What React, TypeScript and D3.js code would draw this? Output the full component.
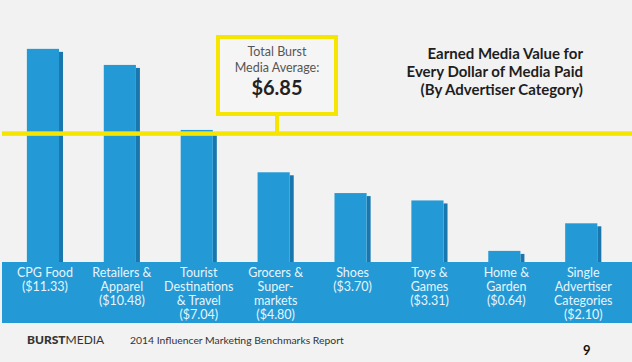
import React from "react";
import * as d3 from "d3";

const categories = ["CPG Food", "Retailers & Apparel", "Tourist Destinations & Travel", "Grocers & Supermarkets", "Shoes", "Toys & Games", "Home & Garden", "Single Advertiser Categories"];
const values = [11.33, 10.48, 7.04, 4.8, 3.7, 3.31, 0.64, 2.1];
const labelLines = [
  ["CPG Food", "($11.33)"],
  ["Retailers &", "Apparel", "($10.48)"],
  ["Tourist", "Destinations", "& Travel", "($7.04)"],
  ["Grocers &", "Super-", "markets", "($4.80)"],
  ["Shoes", "($3.70)"],
  ["Toys &", "Games", "($3.31)"],
  ["Home &", "Garden", "($0.64)"],
  ["Single", "Advertiser", "Categories", "($2.10)"],
];
const average = 6.85;
const titleLines = ["Earned Media Value for", "Every Dollar of Media Paid", "(By Advertiser Category)"];
const calloutLines = ["Total Burst", "Media Average:"];
const calloutValue = "$6.85";
const footerBrandBold = "BURST";
const footerBrandLight = "MEDIA";
const footerText = "2014 Influencer Marketing Benchmarks Report";
const pageNumber = "9";

const W = 632, H = 362;
const BLUE = "#239ad6";
const SHADOW = "#1a77ad";
const YELLOW = "#f6e500";
const BG = "#f2f2f2";
const FONT = "Lato, 'Open Sans', sans-serif";

export default function App() {
  const baseline = 263;
  const y = d3.scaleLinear().domain([0, 12]).range([baseline, baseline - 12 * 18.9]);
  const x = d3.scaleBand<string>().domain(categories).range([6.5, 621.7]).paddingInner(0.53).paddingOuter(0.265);
  const bw = x.bandwidth();
  const avgY = y(average);
  const boxX = 218, boxY = 37, boxW = 118, boxH = 77;
  const stemX = boxX + boxW / 2;

  return (
    <div style={{ position: "fixed", left: 0, top: 0 }}>
      <svg width={W} height={H} style={{ display: "block" }} fontFamily={FONT}>
        <rect x={0} y={0} width={W} height={H} fill={BG} />
        {categories.map((c, i) => {
          const x0 = x(c)!;
          const top = y(values[i]);
          return (
            <g key={c}>
              <rect x={x0 + bw - 4} y={top + 3} width={4} height={baseline - top - 3} fill={SHADOW} />
              <rect x={x0} y={top} width={bw - 4} height={baseline - top} fill={BLUE} />
            </g>
          );
        })}
        <rect x={2} y={262} width={W - 2} height={61} fill={BLUE} />
        {categories.map((c, i) => (
          <text key={c} x={x(c)! + bw / 2} textAnchor="middle" fill="#e8f4fb" fontSize={12.5}>
            {labelLines[i].map((l, j) => (
              <tspan key={j} x={x(c)! + bw / 2} y={277 + j * 14}>{l}</tspan>
            ))}
          </text>
        ))}
        <rect x={2} y={avgY - 2.2} width={W - 2} height={4.5} fill={YELLOW} />
        <rect x={stemX - 2} y={boxY + boxH} width={4} height={avgY - boxY - boxH} fill={YELLOW} />
        <rect x={boxX} y={boxY} width={boxW} height={boxH} fill="#f5f5f5" stroke={YELLOW} strokeWidth={4} />
        {calloutLines.map((l, j) => (
          <text key={j} x={stemX} y={56 + j * 15.5} textAnchor="middle" fill="#555" fontSize={12.5}>{l}</text>
        ))}
        <text x={stemX} y={95} textAnchor="middle" fill="#222" fontSize={20} fontWeight="bold">{calloutValue}</text>
        {titleLines.map((l, j) => (
          <text key={j} x={583} y={59 + j * 18} textAnchor="end" fill="#1e1e1e" fontSize={15} fontWeight="bold">{l}</text>
        ))}
        <text x={27} y={344} fill="#333" fontSize={12}>
          <tspan fontWeight="900">{footerBrandBold}</tspan>
          <tspan fontWeight="normal">{footerBrandLight}</tspan>
        </text>
        <text x={130} y={344} fill="#333" fontSize={10.4}>{footerText}</text>
        <text x={583} y={355} fill="#111" fontSize={13} fontWeight="bold">{pageNumber}</text>
      </svg>
    </div>
  );
}
